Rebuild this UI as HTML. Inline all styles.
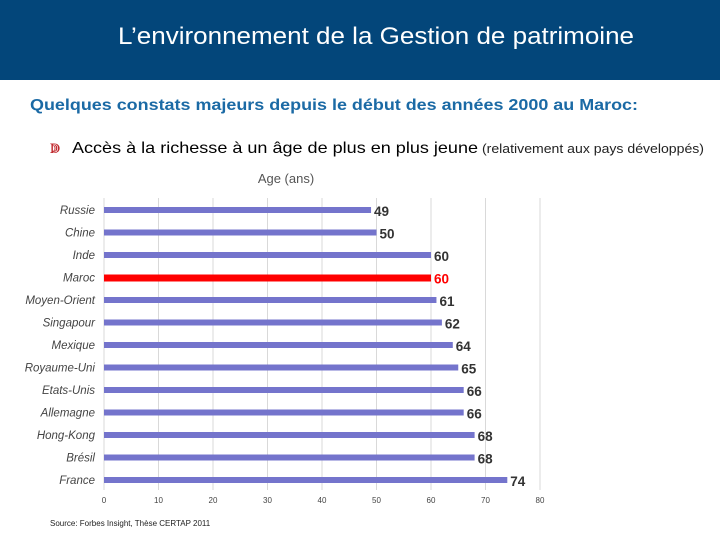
<!DOCTYPE html>
<html><head><meta charset="utf-8"><style>
html,body{margin:0;padding:0;width:720px;height:540px;overflow:hidden;background:#fff;font-family:"Liberation Sans",sans-serif}
</style></head><body>
<svg id="chart" width="720" height="540" xmlns="http://www.w3.org/2000/svg">
<rect x="0" y="0" width="720" height="80" fill="#03467a"/>
<text x="118" y="44" font-size="24" fill="#fff" textLength="516" lengthAdjust="spacingAndGlyphs">L’environnement de la Gestion de patrimoine</text>
<text x="30" y="110" font-size="16" font-weight="bold" fill="#1b6aa5" textLength="608" lengthAdjust="spacingAndGlyphs">Quelques constats majeurs depuis le début des années 2000 au Maroc:</text>
<text x="50" y="153" font-size="14" fill="#c0282d">ↇ</text>
<text x="72" y="153" font-size="16" fill="#000" textLength="406" lengthAdjust="spacingAndGlyphs">Accès à la richesse à un âge de plus en plus jeune</text>
<text x="482" y="153" font-size="13" fill="#222" textLength="222" lengthAdjust="spacingAndGlyphs">(relativement aux pays développés)</text>
<text x="286" y="183" text-anchor="middle" font-size="13" fill="#555">Age (ans)</text>
<g id="grid"></g><g id="bars"></g>
<text x="50" y="526" font-size="8" fill="#222">Source: Forbes Insight, Thèse CERTAP 2011</text>
</svg>
<script>
const categories=["Russie","Chine","Inde","Maroc","Moyen-Orient","Singapour","Mexique","Royaume-Uni","Etats-Unis","Allemagne","Hong-Kong","Brésil","France"];
const values=[49,50,60,60,61,62,64,65,66,66,68,68,74];
const highlight=["Maroc"];
const ticks=[0,10,20,30,40,50,60,70,80];
const x0=104,x1=540,xmax=80,yTop=210,step=22.5;
const xs=v=>x0+(x1-x0)*v/xmax;
const ys=i=>yTop+i*step;
const NS="http://www.w3.org/2000/svg";
const grid=document.getElementById("grid"),bars=document.getElementById("bars");
function mk(tag,attrs,parent){const e=document.createElementNS(NS,tag);for(const k in attrs)e.setAttribute(k,attrs[k]);parent.appendChild(e);return e;}
ticks.forEach(t=>{
 const l=mk("line",{x1:xs(t),x2:xs(t),y1:198,y2:490,stroke:"#d9d9d9","stroke-width":1},grid);
 
 
 const tx=mk("text",{x:xs(t),y:503,"text-anchor":"middle","font-size":8,fill:"#444"},grid);
 tx.textContent=t;
 
 
});
categories.forEach((c,i)=>{
 const y=ys(i),v=values[i],hl=highlight.includes(c);
 const lab=mk("text",{x:95,y:y+4,"text-anchor":"end","font-size":11.5,"font-style":"italic",fill:"#444"},bars);
 lab.textContent=c;
 
 
 const r=mk("rect",{x:x0,y:y-3,width:xs(v)-x0,height:hl?7:6,fill:hl?"#ff0000":"#7474cc"},bars);
 
 
 const vl=mk("text",{x:xs(v)+3,y:y+6,"font-size":13.5,"font-weight":"bold",fill:hl?"#ff0000":"#333"},bars);
 vl.textContent=v;
 
 
});
</script>
</body></html>
